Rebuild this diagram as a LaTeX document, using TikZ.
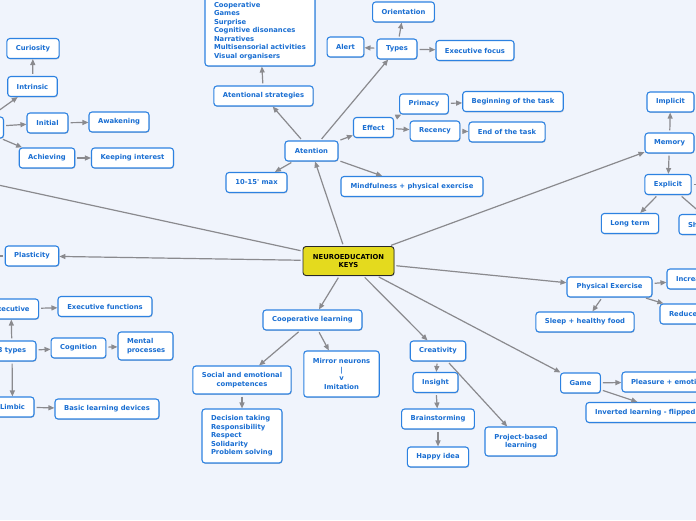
\documentclass[tikz,border=0pt]{standalone}
\usepackage{fontspec}
\newfontfamily\vf{DejaVu Sans}
\usetikzlibrary{arrows.meta,shadows}
\definecolor{bgc}{RGB}{240,244,252}
\definecolor{nodeb}{RGB}{45,130,225}
\definecolor{nodet}{RGB}{25,110,210}
\definecolor{edgec}{RGB}{138,138,142}
\definecolor{keyfill}{RGB}{228,218,30}
\definecolor{keyb}{RGB}{40,40,40}
\tikzset{
  box/.style={draw=nodeb, fill=white, rounded corners=3pt, line width=1.1pt, text=nodet,
    font=\vf\bfseries\fontsize{6.8}{8.5}\selectfont, minimum height=20pt, inner xsep=9pt,
    inner ysep=2pt, align=center,
    drop shadow={shadow xshift=0.6pt, shadow yshift=-0.9pt, fill=black, opacity=0.18}},
  lbox/.style={box, align=left, text width=#1},
  keybox/.style={box, draw=keyb, fill=keyfill, text=black, line width=0.9pt},
  conn/.style={draw=edgec, line width=1.2pt, -{Triangle[length=6pt,width=5pt]}, shorten <=2pt},
}
\begin{document}
\begin{tikzpicture}[x=1pt,y=-1pt]
\fill[bgc] (0,0) rectangle (696,520);
\useasboundingbox (0,0) rectangle (696,520);
\clip (0,0) rectangle (696,520);

% centre
\node[keybox, minimum width=91pt, minimum height=29pt] (key) at (348.5,261) {NEUROEDUCATION\\KEYS};

% attention branch
\node[box, minimum width=53pt] (atention) at (311.5,151) {Atention};
\node[box, minimum width=99pt] (strat) at (263.5,96) {Atentional strategies};
\node[lbox=92pt, minimum height=70pt] (list) at (260,31) {Cooperative\\Games\\Surprise\\Cognitive disonances\\Narratives\\Multisensorial activities\\Visual organisers};
\node[box, minimum width=40pt] (types) at (397,49) {Types};
\node[box, minimum width=61pt] (orient) at (403.5,12) {Orientation};
\node[box, minimum width=35pt] (alert) at (345.5,47) {Alert};
\node[box, minimum width=78pt] (execfocus) at (475,50.5) {Executive focus};
\node[box, minimum width=39pt] (effect) at (373.5,127.5) {Effect};
\node[box, minimum width=48pt] (primacy) at (424,104) {Primacy};
\node[box, minimum width=48pt] (recency) at (435,131) {Recency};
\node[box, minimum width=100pt] (begin) at (513,101.5) {Beginning of the task};
\node[box, minimum width=76pt] (endtask) at (507,132) {End of the task};
\node[box, minimum width=61pt] (tenmax) at (256.5,182.5) {10-15' max};
\node[box, minimum width=142pt] (mindful) at (412,186.5) {Mindfulness + physical exercise};

% memory branch
\node[box, minimum width=47pt] (memory) at (669.5,143) {Memory};
\node[box, minimum width=47pt] (implicit) at (670.5,102) {Implicit};
\node[box, minimum width=46pt] (explicit) at (668,184.5) {Explicit};
\node[box, minimum width=56pt] (longterm) at (630,223.5) {Long term};
\node[lbox=52pt] (shortterm) at (714,224.5) {Short term};
\coordinate (offR) at (760,184.5);

% physical exercise branch
\node[box, minimum width=85pt] (physex) at (609.5,287) {Physical Exercise};
\node[lbox=62pt] (increase) at (707,279) {Increase};
\node[lbox=58pt] (reduce) at (698,314) {Reduce};
\node[box, minimum width=98pt] (sleep) at (585,322) {Sleep + healthy food};

% game branch
\node[box, minimum width=39pt] (game) at (580.5,383) {Game};
\node[lbox=82pt] (pleasure) at (672,382) {Pleasure + emotion};
\node[lbox=148pt] (inverted) at (669,412.5) {Inverted learning - flipped classroom};

% creativity branch
\node[box, minimum width=54pt] (creativity) at (438,351) {Creativity};
\node[box, minimum width=45pt] (insight) at (435.5,382.5) {Insight};
\node[box, minimum width=72pt] (brainstorm) at (438,419) {Brainstorming};
\node[box, minimum width=60pt] (happy) at (438,457) {Happy idea};
\node[box, minimum width=72pt, minimum height=29pt] (project) at (521,441.5) {Project-based\\learning};

% cooperative branch
\node[box, minimum width=99pt] (coop) at (312.5,320) {Cooperative learning};
\node[box, minimum width=98pt, minimum height=28pt] (social) at (242,380) {Social and emotional\\competences};
\node[box, minimum width=75pt, minimum height=46pt] (mirror) at (341.5,374) {Mirror neurons\\|\\v\\Imitation};
\node[lbox=62pt, minimum height=54pt] (decision) at (242,436) {Decision taking\\Responsibility\\Respect\\Solidarity\\Problem solving};

% plasticity branch
\node[box, minimum width=52pt] (plasticity) at (32,256) {Plasticity};
\coordinate (offPl) at (-60,256);
\coordinate (offTL) at (-80,168);
\node[box, minimum width=54pt] (executive) at (11,309) {Executive};
\node[box, minimum width=94pt] (execfun) at (105,306.5) {Executive functions};
\node[box, minimum width=48pt] (threetypes) at (12,351) {3 types};
\node[box, minimum width=53pt] (cognition) at (78.5,348) {Cognition};
\node[lbox=37pt, minimum height=28pt] (mental) at (145.5,346) {Mental\\processes};
\node[box, minimum width=43pt] (limbic) at (12.5,407) {Limbic};
\node[box, minimum width=104pt] (basic) at (107,409) {Basic learning devices};

% motivation branch
\node[box, minimum width=57pt, minimum height=21pt] (motivation) at (-25,127.5) {};
\node[box, minimum width=49pt] (intrinsic) at (32.5,86.5) {Intrinsic};
\node[box, minimum width=51pt] (curiosity) at (33,48.5) {Curiosity};
\node[box, minimum width=41pt] (initial) at (47.5,123) {Initial};
\node[box, minimum width=60pt] (awakening) at (119,122) {Awakening};
\node[box, minimum width=54pt] (achieving) at (47,158) {Achieving};
\node[box, minimum width=81pt] (keeping) at (132.5,158) {Keeping interest};

% connectors
\draw[conn] (key) -- (atention);
\draw[conn] (key) -- (memory);
\draw[conn] (key) -- (physex);
\draw[conn] (key) -- (game);
\draw[conn] (key) -- (creativity);
\draw[conn] (key) -- (coop);
\draw[conn] (key) -- (plasticity);
\draw[conn] (key) -- (offTL);

\draw[conn] (atention) -- (strat);
\draw[conn] (strat) -- (list);
\draw[conn] (atention) -- (types);
\draw[conn] (types) -- (orient);
\draw[conn] (types) -- (alert);
\draw[conn] (types) -- (execfocus);
\draw[conn] (atention) -- (effect);
\draw[conn] (effect) -- (primacy);
\draw[conn] (effect) -- (recency);
\draw[conn] (primacy) -- (begin);
\draw[conn] (recency) -- (endtask);
\draw[conn] (atention) -- (tenmax);
\draw[conn] (atention) -- (mindful);

\draw[conn] (memory) -- (implicit);
\draw[conn] (memory) -- (explicit);
\draw[conn] (explicit) -- (longterm);
\draw[conn] (explicit) -- (shortterm);
\draw[conn] (explicit) -- (offR);

\draw[conn] (physex) -- (increase);
\draw[conn] (physex) -- (reduce);
\draw[conn] (physex) -- (sleep);

\draw[conn] (game) -- (pleasure);
\draw[conn] (game) -- (inverted);

\draw[conn] (creativity) -- (insight);
\draw[conn] (creativity) -- (project);
\draw[conn] (insight) -- (brainstorm);
\draw[conn] (brainstorm) -- (happy);

\draw[conn] (coop) -- (social);
\draw[conn] (coop) -- (mirror);
\draw[conn] (social) -- (decision);

\draw[conn] (plasticity) -- (offPl);
\draw[conn] (threetypes) -- (executive);
\draw[conn] (executive) -- (execfun);
\draw[conn] (threetypes) -- (cognition);
\draw[conn] (cognition) -- (mental);
\draw[conn] (threetypes) -- (limbic);
\draw[conn] (limbic) -- (basic);

\draw[conn] (motivation) -- (intrinsic);
\draw[conn] (intrinsic) -- (curiosity);
\draw[conn] (motivation) -- (initial);
\draw[conn] (initial) -- (awakening);
\draw[conn] (motivation) -- (achieving);
\draw[conn] (achieving) -- (keeping);
\end{tikzpicture}
\end{document}
